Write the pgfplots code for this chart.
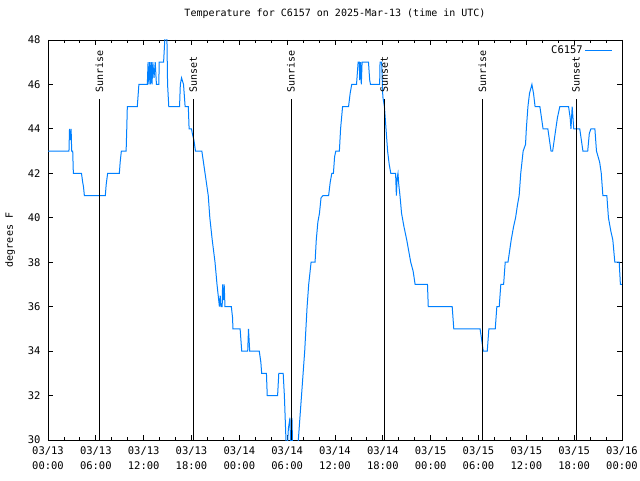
\documentclass[border=0pt]{standalone}
\usepackage{pgfplots}
\pgfplotsset{compat=1.18}
\usepackage{fontspec}
\setmainfont{DejaVu Sans Mono}
\definecolor{gblue}{RGB}{0,128,255}
\begin{document}
\begin{tikzpicture}
\path[use as bounding box] (0,0) rectangle (640pt,480pt);
\begin{axis}[
  at={(48pt,40pt)}, anchor=south west,
  scale only axis, width=574pt, height=400pt,
  xmin=0, xmax=72, ymin=30, ymax=48,
  axis line style={line width=0.8pt},
  every tick/.style={black, line width=0.8pt},
  tick align=inside,
  major tick length=5pt, minor tick length=3pt,
  xtick={0,6,...,72}, minor x tick num=2,
  ytick={30,32,...,48},
  xticklabels={{03/13\\00:00},{03/13\\06:00},{03/13\\12:00},{03/13\\18:00},{03/14\\00:00},{03/14\\06:00},{03/14\\12:00},{03/14\\18:00},{03/15\\00:00},{03/15\\06:00},{03/15\\12:00},{03/15\\18:00},{03/16\\00:00}},
  xticklabel style={align=center, font=\fontsize{10.5}{15}\selectfont, yshift=-3pt},
  yticklabel style={font=\fontsize{10.5}{12}\selectfont, xshift=-4pt},
  /pgf/number format/assume math mode=true,
  ylabel={degrees F},
  ylabel style={at={(axis description cs:-0.066,0.5)}, anchor=center, font=\fontsize{10}{12}\selectfont},
  title={Temperature for C6157 on 2025-Mar-13 (time in UTC)},
  title style={at={(axis description cs:0.5,1)}, anchor=center, yshift=20pt, font=\fontsize{10}{12}\selectfont},
  legend style={at={(axis description cs:1,1)}, anchor=north east, draw=none, fill=none, xshift=-6pt, yshift=-2pt, font=\fontsize{10.5}{12}\selectfont},
  legend plot pos=right,
  legend image code/.code={\draw[#1] (0pt,0pt) -- (27pt,0pt);},
]
\addplot[gblue, line width=1pt] coordinates {
(0,43) (2.63,43) (2.7,44) (2.8,43.5) (2.9,44) (2.97,43) (3.1,43) (3.18,42) (4.2,42) (4.35,41.6) (4.45,41.4) (4.56,41) (7.19,41) (7.3,41.5) (7.48,42) (8.95,42) (9.05,42.5) (9.2,43) (9.8,43) (9.88,44) (9.95,45) (11.2,45) (11.3,45.5) (11.4,46) (12.46,46) (12.55,47) (12.65,46) (12.75,47) (12.85,46) (12.95,47) (13.05,46) (13.15,47) (13.3,46.3) (13.45,47) (13.6,46) (13.9,46) (13.95,47) (14.5,47) (14.65,48) (14.7,48.5) (14.9,48.5) (15.0,46) (15.15,45) (16.5,45) (16.6,46) (16.75,46.3) (17.0,46) (17.1,45.5) (17.2,45) (17.6,45) (17.7,44) (18.0,44) (18.1,43.8) (18.3,43.5) (18.5,43) (19.3,43) (19.5,42.5) (19.7,42) (19.9,41.5) (20.1,41) (20.3,40) (20.6,39) (20.95,38) (21.2,37) (21.5,36) (21.6,36.5) (21.7,36) (21.85,36) (21.9,37) (22.0,36.3) (22.1,37) (22.2,36) (23.0,36) (23.15,35.5) (23.2,35) (24.1,35) (24.2,34.5) (24.3,34) (25.05,34) (25.15,35) (25.3,34) (25.5,34) (26.5,34) (26.7,33.5) (26.8,33) (27.4,33) (27.5,32) (28.8,32) (28.95,33) (29.5,33) (29.65,32) (29.75,31) (29.85,30) (30.0,29.5) (30.15,30.5) (30.35,31) (30.45,29.5) (30.6,31) (30.7,29.5) (31.2,29.5) (31.4,30) (31.6,31) (31.8,32) (32.0,33) (32.2,34) (32.35,35) (32.5,36) (32.7,37) (33.0,38) (33.5,38) (33.65,39) (33.85,39.8) (34.05,40.2) (34.25,40.9) (34.5,41) (35.2,41) (35.4,41.6) (35.6,42) (35.8,42) (35.95,42.75) (36.1,43) (36.55,43) (36.7,44) (36.95,45) (37.7,45) (37.9,45.6) (38.1,46) (38.7,46) (38.9,47) (39.05,47) (39.1,46.2) (39.2,47) (39.3,46) (39.4,47) (40.2,47) (40.35,46.2) (40.45,46) (41.6,46) (41.65,47) (41.85,47) (42.0,45.45) (42.2,45) (42.4,44) (42.6,43) (42.8,42.4) (43.0,42) (43.6,42) (43.7,41) (43.8,41.8) (43.9,42) (44.0,41.5) (44.15,41) (44.35,40.2) (44.65,39.6) (45.0,39) (45.3,38.4) (45.5,38) (45.8,37.6) (46.05,37) (47.6,37) (47.7,36) (50.7,36) (50.9,35) (54.2,35) (54.4,34.5) (54.6,34) (55.1,34) (55.3,35) (56.1,35) (56.3,36) (56.6,36) (56.8,37) (57.15,37) (57.35,38) (57.7,38) (57.9,38.5) (58.1,39) (58.4,39.6) (58.65,40) (58.9,40.6) (59.1,41) (59.3,42) (59.6,43) (59.9,43.3) (60.0,44) (60.2,45) (60.4,45.6) (60.7,46) (60.9,45.6) (61.1,45) (61.7,45) (62.1,44) (62.7,44) (62.9,43.5) (63.1,43) (63.3,43) (63.5,43.5) (63.7,44) (63.9,44.5) (64.2,45) (65.3,45) (65.5,44.5) (65.6,44) (65.75,45) (65.95,44) (66.7,44) (66.9,43.5) (67.1,43) (67.7,43) (67.9,43.8) (68.1,44) (68.6,44) (68.8,43) (69.2,42.5) (69.4,42) (69.6,41) (70.1,41) (70.3,40) (70.6,39.4) (70.85,39) (71.1,38) (71.65,38) (71.8,37) (72,37)
};
\addlegendentry{C6157}
\addplot[black, line width=0.8pt, forget plot] coordinates {(6.44,30) (6.44,45.34)};
\addplot[black, line width=0.8pt, forget plot] coordinates {(18.23,30) (18.23,45.34)};
\addplot[black, line width=0.8pt, forget plot] coordinates {(30.48,30) (30.48,45.34)};
\addplot[black, line width=0.8pt, forget plot] coordinates {(42.19,30) (42.19,45.34)};
\addplot[black, line width=0.8pt, forget plot] coordinates {(54.48,30) (54.48,45.34)};
\addplot[black, line width=0.8pt, forget plot] coordinates {(66.23,30) (66.23,45.34)};
\node[rotate=90, anchor=west, inner sep=0pt, xshift=1pt, font=\fontsize{10}{12}\selectfont] at (axis cs:6.44,45.6) {Sunrise};
\node[rotate=90, anchor=west, inner sep=0pt, xshift=1pt, font=\fontsize{10}{12}\selectfont] at (axis cs:18.23,45.6) {Sunset};
\node[rotate=90, anchor=west, inner sep=0pt, xshift=1pt, font=\fontsize{10}{12}\selectfont] at (axis cs:30.48,45.6) {Sunrise};
\node[rotate=90, anchor=west, inner sep=0pt, xshift=1pt, font=\fontsize{10}{12}\selectfont] at (axis cs:42.19,45.6) {Sunset};
\node[rotate=90, anchor=west, inner sep=0pt, xshift=1pt, font=\fontsize{10}{12}\selectfont] at (axis cs:54.48,45.6) {Sunrise};
\node[rotate=90, anchor=west, inner sep=0pt, xshift=1pt, font=\fontsize{10}{12}\selectfont] at (axis cs:66.23,45.6) {Sunset};
\end{axis}
\end{tikzpicture}
\end{document}
